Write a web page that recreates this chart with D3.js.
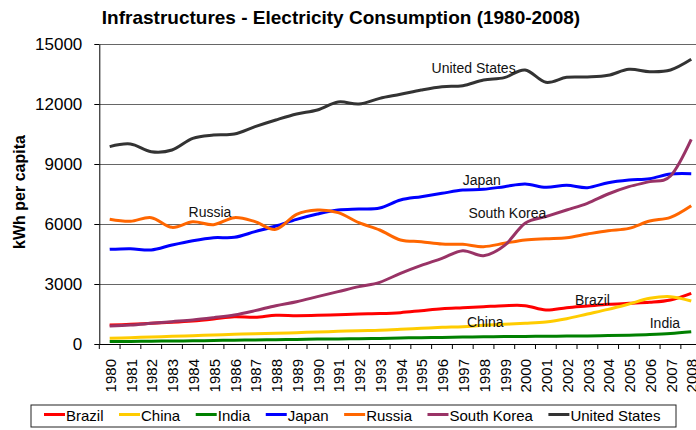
<!DOCTYPE html>
<html>
<head>
<meta charset="utf-8">
<script src="https://cdn.jsdelivr.net/npm/d3@7"></script>
<style>
  body { margin: 0; background: #fff; }
  svg { display: block; font-family: "Liberation Sans", Arial, sans-serif; }
</style>
</head>
<body>
<div id="container"></div>
<script>
/* CONSTANTS AND GLOBALS */
const width = 696,
  height = 430,
  margin = { top: 44, bottom: 86, left: 99.3 },
  bandWidth = 20.77;

/* DATA */
const years = d3.range(1980, 2009);
const yTicks = [0, 3000, 6000, 9000, 12000, 15000];

const brazil = [950, 983, 1033, 1083, 1150, 1250, 1367, 1333, 1433, 1417, 1433, 1467, 1500, 1520, 1567, 1667, 1767, 1817, 1867, 1917, 1917, 1700, 1817, 1900, 1983, 2033, 2083, 2200, 2533];
const china = [283, 317, 350, 383, 415, 450, 483, 517, 533, 567, 600, 633, 667, 690, 733, 783, 833, 867, 933, 983, 1033, 1100, 1267, 1500, 1733, 2000, 2283, 2367, 2150];
const india = [120, 130, 140, 150, 160, 175, 190, 200, 215, 230, 245, 255, 265, 280, 300, 315, 330, 345, 360, 370, 380, 385, 395, 405, 420, 440, 470, 520, 610];
const japan = [4733, 4767, 4700, 4950, 5167, 5317, 5333, 5617, 5900, 6233, 6500, 6700, 6750, 6800, 7200, 7367, 7533, 7700, 7733, 7867, 8000, 7833, 7933, 7817, 8067, 8200, 8267, 8500, 8517];
const russia = [6233, 6133, 6317, 5833, 6117, 5967, 6317, 6117, 5733, 6483, 6700, 6567, 6067, 5700, 5200, 5117, 5000, 4983, 4867, 5033, 5200, 5267, 5317, 5500, 5667, 5783, 6150, 6333, 6917];
const southKorea = [900, 950, 1033, 1117, 1200, 1317, 1450, 1667, 1917, 2117, 2367, 2617, 2867, 3083, 3533, 3933, 4283, 4667, 4417, 4917, 6033, 6367, 6700, 7033, 7500, 7867, 8117, 8400, 10233];
const unitedStates = [9867, 10000, 9617, 9700, 10283, 10450, 10500, 10867, 11200, 11500, 11700, 12100, 12000, 12283, 12483, 12700, 12867, 12917, 13200, 13317, 13700, 13083, 13333, 13350, 13433, 13733, 13617, 13700, 14233];

const countries = ["Brazil", "China", "India", "Japan", "Russia", "South Korea", "United States"];
const colors = ["#ff0000", "#ffcc00", "#008000", "#0000ff", "#ff6600", "#993366", "#333333"];
const seriesValues = [brazil, china, india, japan, russia, southKorea, unitedStates];

// inline labels, anchored in data units (year, kWh)
const labelYears = [2002.4, 1997.2, 2006.0, 1997.0, 1983.8, 1997.27, 1995.5];
const labelValues = [1950, 850, 800, 7950, 6350, 6300, 13550];

const series = countries.map((name, i) => ({
  name: name,
  color: colors[i],
  values: years.map((yr, j) => ({ year: yr, value: seriesValues[i][j] }))
}));

/* SCALES */
const xScale = d3.scaleBand()
  .domain(years)
  .range([margin.left, margin.left + years.length * bandWidth])
  .padding(0);

const xCenter = d3.scaleLinear()
  .domain([1980, 2008])
  .range([xScale(1980) + xScale.bandwidth() / 2, xScale(2008) + xScale.bandwidth() / 2]);

const yScale = d3.scaleLinear()
  .domain([0, 15000])
  .range([height - margin.bottom, margin.top]);

const svg = d3.select("#container")
  .append("svg")
  .attr("width", width)
  .attr("height", height);

// title
svg.append("text")
  .attr("x", 341)
  .attr("y", 24)
  .attr("text-anchor", "middle")
  .attr("font-size", 19)
  .attr("font-weight", "bold")
  .attr("fill", "#000")
  .text("Infrastructures - Electricity Consumption (1980-2008)");

// gridlines
svg.append("g")
  .attr("class", "grid")
  .attr("transform", `translate(${margin.left}, 0)`)
  .call(d3.axisLeft(yScale).tickValues(yTicks.slice(1)).tickSize(-(width - margin.left)).tickFormat(""))
  .call(g => g.select(".domain").remove())
  .call(g => g.selectAll("line").attr("stroke", "#666"));

// y axis
const yAxis = d3.axisLeft(yScale)
  .tickValues(yTicks)
  .tickSize(5)
  .tickSizeOuter(0)
  .tickPadding(12)
  .tickFormat(d3.format("d"));

svg.append("g")
  .attr("class", "yAxis")
  .attr("transform", `translate(${margin.left}, 0)`)
  .call(yAxis)
  .attr("font-family", null)
  .attr("font-size", null)
  .call(g => g.selectAll("text").attr("font-size", 17).attr("fill", "#000"))
  .call(g => g.selectAll("line, path").attr("stroke", "#000"));

svg.append("text")
  .attr("transform", `translate(25, 192) rotate(-90)`)
  .attr("text-anchor", "middle")
  .attr("font-size", 16)
  .attr("font-weight", "bold")
  .text("kWh per capita");

// x axis
const xAxis = d3.axisBottom(xScale)
  .tickSize(0)
  .tickSizeOuter(0);

svg.append("g")
  .attr("class", "xAxis")
  .attr("transform", `translate(0, ${yScale(0)})`)
  .call(xAxis)
  .attr("font-family", null)
  .attr("font-size", null)
  .call(g => g.select(".domain").attr("stroke", "#000"))
  .call(g => g.selectAll("text")
    .attr("font-size", 15)
    .attr("fill", "#000")
    .attr("transform", "rotate(-90)")
    .attr("x", -15)
    .attr("y", 1)
    .attr("dy", "0.35em")
    .attr("text-anchor", "end"));

// tick marks between categories
const boundaries = years.map(d => xScale(d)).concat([xScale.range()[1]]);
svg.append("g")
  .selectAll("line")
  .data(boundaries)
  .join("line")
  .attr("x1", d => d)
  .attr("x2", d => d)
  .attr("y1", yScale(0))
  .attr("y2", yScale(0) + 5)
  .attr("stroke", "#000");

// lines
const lineGen = d3.line()
  .x(d => xScale(d.year) + xScale.bandwidth() / 2)
  .y(d => yScale(d.value))
  .curve(d3.curveCatmullRom.alpha(0));

svg.append("g")
  .selectAll(".line")
  .data(series)
  .join("path")
  .attr("class", "line")
  .attr("fill", "none")
  .attr("stroke", d => d.color)
  .attr("stroke-width", 3)
  .attr("stroke-linejoin", "round")
  .attr("d", d => lineGen(d.values));

// inline labels
svg.append("g")
  .selectAll("text")
  .data(countries)
  .join("text")
  .attr("x", (d, i) => xCenter(labelYears[i]))
  .attr("y", (d, i) => yScale(labelValues[i]))
  .attr("font-size", 14)
  .attr("fill", "#111")
  .text(d => d);

// legend
const legend = svg.append("g").attr("class", "legend");
legend.append("rect")
  .attr("x", 31)
  .attr("y", 405)
  .attr("width", 645)
  .attr("height", 22)
  .attr("fill", "#fff")
  .attr("stroke", "#222");

let lx = 44;
series.forEach(s => {
  legend.append("line")
    .attr("x1", lx)
    .attr("x2", lx + 21)
    .attr("y1", 414.5)
    .attr("y2", 414.5)
    .attr("stroke", s.color)
    .attr("stroke-width", 3);
  const t = legend.append("text")
    .attr("x", lx + 22)
    .attr("y", 421)
    .attr("font-size", 15)
    .text(s.name);
  lx += 22 + t.node().getComputedTextLength() + 15.5;
});
</script>
</body>
</html>
